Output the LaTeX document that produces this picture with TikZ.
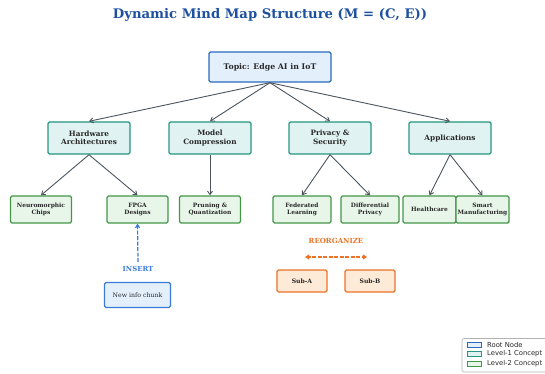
\documentclass[tikz,border=0pt]{standalone}
\usepackage{fontspec}
\setmainfont{DejaVu Serif}
\setsansfont{DejaVu Sans}
\usetikzlibrary{arrows.meta}
\definecolor{titlec}{RGB}{30,80,160}
\definecolor{rootc}{RGB}{40,105,190}
\definecolor{rootf}{RGB}{227,240,252}
\definecolor{onec}{RGB}{38,150,130}
\definecolor{onef}{RGB}{224,242,241}
\definecolor{twoc}{RGB}{67,150,72}
\definecolor{twof}{RGB}{232,245,233}
\definecolor{edgec}{RGB}{75,85,95}
\definecolor{insc}{RGB}{58,123,213}
\definecolor{orgc}{RGB}{235,115,40}
\definecolor{orgf}{RGB}{253,235,216}
\definecolor{txtc}{RGB}{40,40,40}
\tikzset{
  box/.style={draw, rounded corners=1.5pt, line width=1.4pt, inner sep=0pt, align=center, text=txtc},
  rootbox/.style={box, draw=rootc, fill=rootf, minimum width=122pt, minimum height=30pt, font=\fontsize{7.8}{9}\selectfont\bfseries},
  onebox/.style={box, draw=onec, fill=onef, minimum width=82pt, minimum height=32pt, font=\fontsize{7.3}{8.5}\selectfont\bfseries},
  twobox/.style={box, draw=twoc, fill=twof, minimum width=61pt, minimum height=27pt, font=\fontsize{5.9}{6.8}\selectfont\bfseries},
  subbox/.style={box, draw=orgc, fill=orgf, minimum width=50pt, minimum height=22pt, font=\fontsize{6.1}{7}\selectfont\bfseries},
  newbox/.style={box, draw=insc, fill=rootf, minimum width=66pt, minimum height=25pt, font=\fontsize{6.2}{7}\selectfont},
  conn/.style={draw=edgec, line width=0.9pt, -{Straight Barb[length=3.5pt,width=5pt]}},
  legpatch/.style={draw, line width=1pt, minimum width=14pt, minimum height=5pt, inner sep=0pt},
  legtext/.style={anchor=west, inner sep=0pt, font=\sffamily\fontsize{6.8}{8}\selectfont, text=txtc}
}
\begin{document}
\begin{tikzpicture}[x=1pt,y=-1pt]
\path[use as bounding box] (0,0) rectangle (545,374);
\clip (0,0) rectangle (545,374);
\node[font=\fontsize{13.2}{15}\selectfont\bfseries, text=titlec] (title) at (270,15) {Dynamic Mind Map Structure (M = (C, E))};

\node[rootbox] (root) at (270,67) {Topic: Edge AI in IoT};

\node[onebox] (hw) at (89,138) {Hardware\\Architectures};
\node[onebox] (mc) at (210,138) {Model\\Compression};
\node[onebox] (ps) at (330,138) {Privacy \&\\Security};
\node[onebox] (ap) at (450,138) {Applications};

\node[twobox] (nc) at (41,209.5) {Neuromorphic\\Chips};
\node[twobox] (fp) at (137.5,209.5) {FPGA\\Designs};
\node[twobox] (pq) at (210,209.5) {Pruning \&\\Quantization};
\node[twobox, minimum width=58pt] (fl) at (302,209.5) {Federated\\Learning};
\node[twobox, minimum width=58pt] (dp) at (370,209.5) {Differential\\Privacy};
\node[twobox, minimum width=53pt] (hc) at (429.5,209.5) {Healthcare};
\node[twobox, minimum width=53pt] (sm) at (482.5,209.5) {Smart\\Manufacturing};

\draw[conn] (root.south) -- (hw.north);
\draw[conn] (root.south) -- (mc.north);
\draw[conn] (root.south) -- (ps.north);
\draw[conn] (root.south) -- (ap.north);

\draw[conn] (hw.south) -- (nc.north);
\draw[conn] (hw.south) -- (fp.north);
\draw[conn] (mc.south) -- (pq.north);
\draw[conn] (ps.south) -- (fl.north);
\draw[conn] (ps.south) -- (dp.north);
\draw[conn] (ap.south) -- (hc.north);
\draw[conn] (ap.south) -- (sm.north);

% insert
\node[newbox] (new) at (137.5,295) {New info chunk};
\node[font=\fontsize{6.9}{8}\selectfont\bfseries, text=insc, inner sep=0pt] (ins) at (138,268.5) {INSERT};
\coordinate (insbot) at (138,262);
\draw[draw=insc, line width=1.2pt, dash pattern=on 4pt off 1.5pt, -{Straight Barb[length=3pt,width=4pt]}] (insbot) -- (fp.south);

% reorganize
\node[font=\fontsize{7}{8}\selectfont\bfseries, text=orgc, inner sep=0pt] (reo) at (336,240.5) {REORGANIZE};
\coordinate (rl) at (305,257);
\coordinate (rr) at (367,257);
\draw[draw=orgc, line width=1.2pt, dash pattern=on 4pt off 1.5pt, {Straight Barb[length=3pt,width=4pt]}-{Straight Barb[length=3pt,width=4pt]}] (rl) -- (rr);
\node[subbox] (sa) at (302,281) {Sub-A};
\node[subbox] (sb) at (370,281) {Sub-B};

% legend
\draw[draw=black!30, fill=white, rounded corners=2pt, line width=0.6pt] (462,338.5) rectangle (552,372);
\node[legpatch, draw=rootc, fill=rootf] (l1) at (474.5,344.5) {};
\node[legpatch, draw=onec, fill=onef] (l2) at (474.5,354) {};
\node[legpatch, draw=twoc, fill=twof] (l3) at (474.5,363.5) {};
\node[legtext] (t1) at (487,344.5) {Root Node};
\node[legtext] (t2) at (487,354) {Level-1 Concept};
\node[legtext] (t3) at (487,363.5) {Level-2 Concept};
\end{tikzpicture}
\end{document}
